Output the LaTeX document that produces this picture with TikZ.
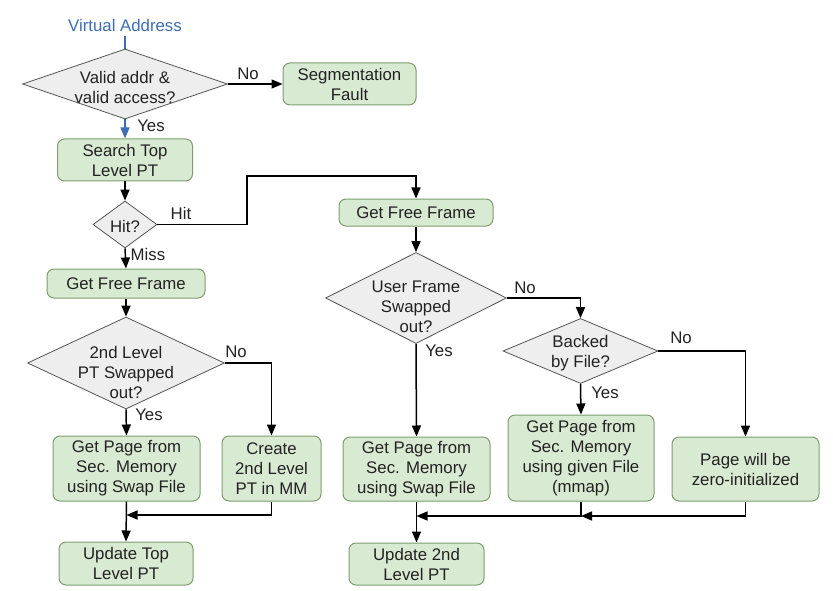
\documentclass[tikz,border=0pt]{standalone}
\usepackage{fontspec}
\setmainfont{Liberation Sans}
\usetikzlibrary{arrows.meta,shapes.geometric}
\definecolor{boxfill}{HTML}{D9EAD3}
\definecolor{boxdraw}{HTML}{7E9E6E}
\definecolor{dfill}{HTML}{EEEEEE}
\definecolor{ddraw}{HTML}{555555}
\definecolor{vablue}{HTML}{3D6DB5}
\definecolor{txt}{HTML}{222222}
\begin{document}
\begin{tikzpicture}[x=1pt,y=-1pt,
  font=\fontsize{16.8}{20}\selectfont, text=txt,
  proc/.style={draw=boxdraw, fill=boxfill, line width=1pt, rounded corners=7pt, align=center, inner sep=0pt},
  dec/.style={diamond, draw=ddraw, fill=dfill, line width=0.8pt, inner sep=0pt},
  dtext/.style={align=center, inner sep=0pt},
  arr/.style={line width=1.5pt, draw=black, -{Triangle[length=11pt,width=9pt]}},
  ln/.style={line width=1.5pt},
  lbl/.style={inner sep=0pt}]
\useasboundingbox (0,0) rectangle (833,591);

% ---- nodes: left column
\node[lbl, text=vablue, inner sep=5pt] (va) at (125,25) {Virtual Address};
\node[dec, minimum width=205pt, minimum height=70pt] (d1) at (125,84) {};
\node[dtext] at (125,87) {Valid addr \&\\valid access?};
\node[proc, minimum width=133pt, minimum height=42pt] (seg) at (349.5,84) {Segmentation\\Fault};
\node[proc, minimum width=135pt, minimum height=42pt] (stop) at (125,160) {Search Top\\Level PT};
\node[dec, minimum width=64pt, minimum height=47pt] (hit) at (125,224.5) {};
\node[dtext] at (125,226) {Hit?};
\node[proc, minimum width=158pt, minimum height=29pt] (gffL) at (126,283.5) {Get Free Frame};
\node[dec, minimum width=197pt, minimum height=92pt] (d2) at (126,363) {};
\node[dtext] at (126,372) {2nd Level\\PT Swapped\\out?};
\node[proc, minimum width=147pt, minimum height=65pt] (gpL) at (126.5,468.5) {Get Page from\\Sec. Memory\\using Swap File};
\node[proc, minimum width=99pt, minimum height=65pt] (create) at (271.5,468.5) {Create\\2nd Level\\PT in MM};
\node[proc, minimum width=134pt, minimum height=43pt] (utop) at (126,563.5) {Update Top\\Level PT};

% ---- nodes: right part
\node[proc, minimum width=154pt, minimum height=27pt] (gffR) at (416,212.5) {Get Free Frame};
\node[dec, minimum width=181pt, minimum height=91pt] (duf) at (416,298) {};
\node[dtext] at (416,307) {User Frame\\Swapped\\out?};
\node[dec, minimum width=155pt, minimum height=65pt] (dbf) at (580.5,351) {};
\node[dtext] at (580.5,353) {Backed\\by File?};
\node[proc, minimum width=147pt, minimum height=64pt] (gpR) at (416.5,469) {Get Page from\\Sec. Memory\\using Swap File};
\node[proc, minimum width=146pt, minimum height=86pt] (gpM) at (581,458) {Get Page from\\Sec. Memory\\using given File\\(mmap)};
\node[proc, minimum width=147pt, minimum height=64pt] (pz) at (745.5,469) {Page will be\\zero-initialized};
\node[proc, minimum width=135pt, minimum height=42pt] (u2) at (416.5,564) {Update 2nd\\Level PT};

% ---- edge labels
\node[lbl] (l1) at (248,74) {No};
\node[lbl] (l2) at (151,126) {Yes};
\node[lbl] (l3) at (181,213) {Hit};
\node[lbl] (l4) at (148,254) {Miss};
\node[lbl] (l5) at (236,352) {No};
\node[lbl] (l6) at (149,415) {Yes};
\node[lbl] (l7) at (525,288) {No};
\node[lbl] (l8) at (439,351) {Yes};
\node[lbl] (l9) at (681,338) {No};
\node[lbl] (l10) at (605,393) {Yes};

% ---- junction points
\coordinate (jL) at (126.5,515);
\coordinate (jR1) at (416.5,516);
\coordinate (jR2) at (581,516);
\coordinate (hitc) at (247,176);

% ---- connectors
\draw[ln, vablue] (va.south) -- (d1.north);
\draw[arr] (d1.east) -- (seg.west);
\draw[arr, draw=vablue, fill=vablue] (d1.south) -- (stop.north);
\draw[arr] (stop.south) -- (hit.north);
\draw[arr, rounded corners=0pt] (hit.east) -| (hitc) -| (gffR.north);
\draw[arr] (hit.south) -- (gffL.north);
\draw[arr] (gffL.south) -- (d2.north);
\draw[arr] (d2.east) -| (create.north);
\draw[arr] (d2.south) -- (gpL.north);
\draw[arr] (gpL.south) -- (utop.north);
\draw[arr] (create.south) |- (jL);

\draw[arr] (gffR.south) -- (duf.north);
\draw[arr] (duf.east) -| (dbf.north);
\draw[arr] (duf.south) -- (gpR.north);
\draw[arr] (dbf.east) -| (pz.north);
\draw[arr] (dbf.south) -- (gpM.north);
\draw[arr] (gpR.south) -- (u2.north);
\draw[arr] (gpM.south) |- (jR1);
\draw[arr] (pz.south) |- (jR2);
\end{tikzpicture}
\end{document}
